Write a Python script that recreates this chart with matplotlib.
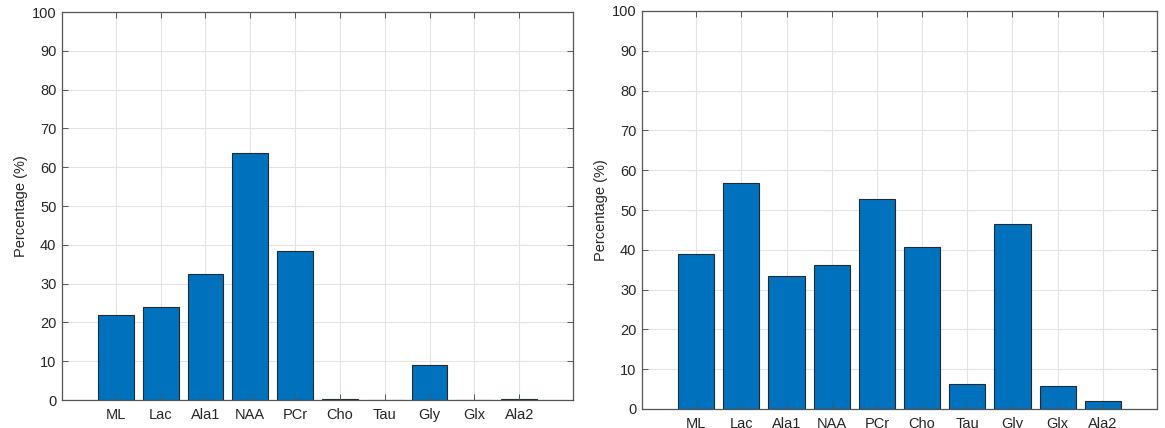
import matplotlib
matplotlib.use("Agg")
import matplotlib.pyplot as plt
import numpy as np

plt.rcParams['font.family'] = ['Liberation Sans', 'DejaVu Sans']

categories = ["ML", "Lac", "Ala1", "NAA", "PCr", "Cho", "Tau", "Gly", "Glx", "Ala2"]
left_values = [21.8, 24.0, 32.6, 63.6, 38.3, 0.3, 0.0, 9.0, 0.0, 0.3]
right_values = [39.0, 56.8, 33.5, 36.3, 52.8, 40.8, 6.2, 46.5, 5.7, 2.0]
yticks = list(range(0, 101, 10))

W, H = 1165, 428
fig = plt.figure(figsize=(W / 100, H / 100), dpi=100)

def make_axes(px_left, px_right, px_top, px_bottom):
    return fig.add_axes([px_left / W, 1 - px_bottom / H,
                         (px_right - px_left) / W, (px_bottom - px_top) / H])

ax1 = make_axes(62, 573, 12, 400)
ax2 = make_axes(642, 1157, 11, 409)

bar_color = '#0072BD'
edge_color = '#1f2a33'
spine_color = '#555555'
grid_color = '#e3e3e3'

for ax, vals in ((ax1, left_values), (ax2, right_values)):
    x = np.arange(1, len(categories) + 1)
    ax.set_xlim(0.8 - 1.0, len(categories) + 1.2)
    ax.set_ylim(0, 100)
    for t in yticks:
        ax.axhline(t, color=grid_color, lw=0.8, zorder=0.3)
    for xi in x:
        ax.axvline(xi, color=grid_color, lw=0.8, zorder=0.3)
    ax.bar(x, vals, width=0.8, color=bar_color, edgecolor=edge_color,
           linewidth=0.8, zorder=1)
    ax.set_axisbelow(False)
    ax.set_xticks(x)
    ax.set_xticklabels(categories)
    ax.set_yticks(yticks)
    ax.tick_params(direction='in', length=4, width=0.7, color=spine_color,
                   top=True, right=True, labelsize=10.5, labelcolor='#262626')
    ax.tick_params(axis='x', pad=6)
    ax.tick_params(axis='y', pad=4)
    for s in ax.spines.values():
        s.set_color(spine_color)
        s.set_linewidth(0.9)
        s.set_zorder(3)
    ax.set_ylabel('Percentage (%)', fontsize=10.5, color='#262626', labelpad=3)

fig.savefig('out.png', dpi=100)
